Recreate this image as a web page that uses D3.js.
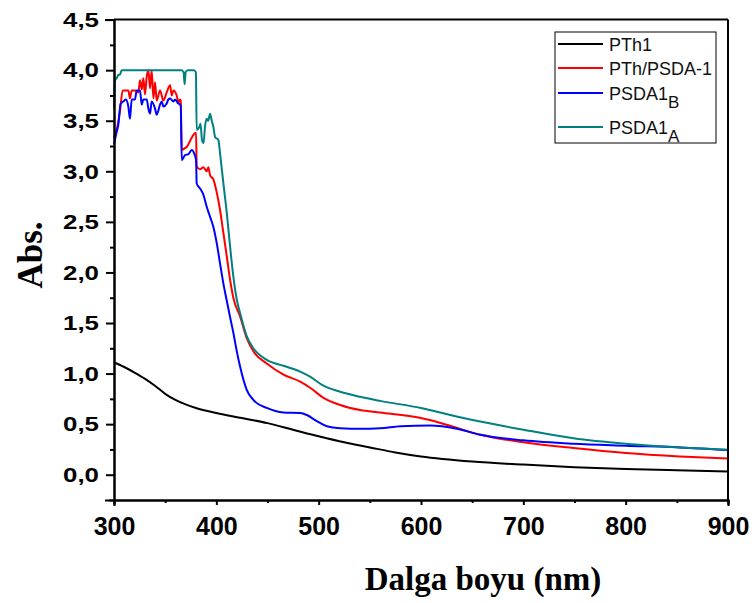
<!DOCTYPE html>
<html lang="en">
<head>
  <meta charset="UTF-8" />
  <title>Abs. vs Dalga boyu</title>
  <script src="https://d3js.org/d3.v7.min.js"></script>
  <style>
    body { margin: 0; background: #fff; }
    svg { display: block; }
    .axis path, .axis line { stroke: #000; stroke-width: 2px; }
    .ylab text { font-family: 'Liberation Sans', Arial, sans-serif; font-weight: bold; font-size: 21px; fill: #000; }
    .xlab text { font-family: 'Liberation Sans', Arial, sans-serif; font-weight: bold; font-size: 25px; fill: #000; }
    .title { font-family: 'Liberation Serif', 'Times New Roman', serif; font-weight: bold; fill: #000; }
    .legend text { font-family: 'Liberation Sans', Arial, sans-serif; font-size: 18px; fill: #111; }
  </style>
</head>
<body>
<svg id="chart" width="754" height="603"></svg>
<script>
  // series names and colours
  const seriesNames = ["PTh1", "PTh/PSDA-1", "PSDA1B", "PSDA1A"];
  const seriesColors = ["#000000", "#ff0000", "#0000ff", "#008080"];

  // PTh1 (black)
  const pth1Wl  = [300, 310, 320, 330, 340, 350, 360, 370, 380, 400, 425, 450, 475, 500, 525, 550, 575, 600, 650, 700, 750, 800, 850, 900];
  const pth1Abs = [1.11, 1.065, 1.01, 0.95, 0.88, 0.80, 0.74, 0.695, 0.66, 0.61, 0.56, 0.51, 0.445, 0.38, 0.32, 0.27, 0.22, 0.18, 0.13, 0.10, 0.075, 0.056, 0.044, 0.033];

  // PTh/PSDA-1 (red)
  const redWl  = [300, 303.3, 305.9, 308.5, 310.8, 314, 315.6, 317.3, 320.5, 323.8, 325.4, 327.1, 328.7, 330.3, 332, 333.6, 335.2, 336.8, 338.5, 340.1, 341.7, 345, 348.2, 351.5, 354.8, 356.4, 358, 361.3, 362.9, 364.5, 365.2,
                  366.2, 369.4, 371.1, 374.3, 377.6, 380.2, 380.8, 384.1, 387.3, 390.6, 392.2, 393.9, 397.1, 400.4, 403.6, 406.9, 410.2, 413.4, 416.6, 423.2, 429.7, 436.2, 449.3, 465.6, 481.9, 491.6, 504.7, 521, 540.5, 560, 600, 625, 658, 700, 749, 800, 853, 900];
  const redAbs = [3.33, 3.44, 3.60, 3.80, 3.80, 3.80, 3.72, 3.80, 3.80, 3.78, 3.90, 3.81, 3.92, 3.76, 3.94, 4.00, 3.82, 4.00, 3.72, 3.88, 3.70, 3.80, 3.70, 3.78, 3.85, 3.75, 3.80, 3.75, 3.68, 3.71, 3.70,
                  3.21, 3.23, 3.24, 3.30, 3.36, 3.38, 3.05, 3.02, 3.04, 3.00, 3.04, 2.96, 2.92, 2.79, 2.62, 2.39, 2.16, 1.93, 1.75, 1.565, 1.35, 1.22, 1.10, 0.99, 0.92, 0.86, 0.76, 0.69, 0.64, 0.615, 0.56, 0.494, 0.395, 0.32, 0.263, 0.214, 0.181, 0.161];

  // PSDA1B (blue)
  const blueWl  = [300, 302.6, 304.2, 306.5, 309.1, 311.7, 314, 315.6, 317.3, 320.5, 322.2, 325.4, 327.1, 328.7, 332, 333.6, 335.2, 336.8, 340.1, 341.7, 345, 346.6, 348.2, 351.5, 353.1, 354.8, 358, 359.6, 362.9, 364.5, 365.2,
                   366.2, 369.4, 372.7, 375.9, 378.2, 380.2, 380.8, 384.1, 387.3, 390.6, 393.9, 397.1, 400.4, 403.6, 406.9, 410.2, 413.4, 416.7, 420, 423.2, 429.7, 436.2, 449.3, 465.6, 481.9, 488.4, 498.2, 508, 521, 540.5, 560, 580, 609, 635, 658, 700, 749, 800, 853, 900];
  const blueAbs = [3.27, 3.39, 3.46, 3.67, 3.69, 3.71, 3.64, 3.52, 3.71, 3.71, 3.80, 3.80, 3.66, 3.71, 3.71, 3.62, 3.57, 3.69, 3.62, 3.56, 3.66, 3.69, 3.64, 3.67, 3.71, 3.72, 3.69, 3.71, 3.67, 3.66, 3.65,
                   3.11, 3.16, 3.17, 3.21, 3.18, 3.11, 2.88, 2.83, 2.77, 2.65, 2.55, 2.45, 2.29, 2.09, 1.89, 1.72, 1.56, 1.40, 1.22, 1.07, 0.84, 0.74, 0.66, 0.615, 0.61, 0.59, 0.53, 0.48, 0.46, 0.455, 0.46, 0.48, 0.487, 0.455, 0.395, 0.34, 0.306, 0.287, 0.27, 0.244];

  // PSDA1A (teal)
  const tealWl  = [300, 301, 302.6, 304, 306, 307.5, 366, 368, 369, 370, 372, 378, 380, 380.8, 383, 384.5, 386, 387.5, 389, 390.6, 392, 393.9, 395.5, 397.1, 398.8, 402, 403.6, 406.9, 410.2, 413.4, 416.6, 420, 423.2, 429.7, 436.2, 449.3, 465.6, 481.9, 491.6, 504.7, 521, 540.5, 560, 600, 641.5, 700, 749, 800, 853, 900];
  const tealAbs = [3.62, 3.90, 3.92, 3.95, 3.96, 4.00, 4.00, 3.98, 3.86, 3.98, 4.00, 4.00, 3.98, 3.41, 3.43, 3.47, 3.31, 3.28, 3.45, 3.52, 3.50, 3.57, 3.50, 3.44, 3.34, 3.31, 3.18, 2.88, 2.59, 2.26, 1.96, 1.73, 1.60, 1.37, 1.25, 1.136, 1.077, 1.02, 0.97, 0.88, 0.82, 0.77, 0.73, 0.66, 0.56, 0.445, 0.36, 0.306, 0.27, 0.247];

  const xTicks = [300, 400, 500, 600, 700, 800, 900];
  const xMinor = [350, 450, 550, 650, 750, 850];
  const yTicks = [0, 0.5, 1, 1.5, 2, 2.5, 3, 3.5, 4, 4.5];
  const yMinor = [0.25, 0.75, 1.25, 1.75, 2.25, 2.75, 3.25, 3.75, 4.25];

  const seriesWl = [pth1Wl, redWl, blueWl, tealWl];
  const seriesAbs = [pth1Abs, redAbs, blueAbs, tealAbs];

  const margin = { left: 114, right: 26, top: 19.6, bottom: 103 };
  const width = 754, height = 603;

  const svg = d3.select("#chart");

  const x = d3.scaleLinear().domain([300, 900]).range([margin.left, width - margin.right]);
  const y = d3.scaleLinear().domain([-0.25, 4.5]).range([height - margin.bottom, margin.top]);

  // lines
  const line = d3.line()
    .x(d => x(d[0]))
    .y(d => y(d[1]))
    .curve(d3.curveMonotoneX);

  seriesNames.forEach((name, i) => {
    const pts = seriesWl[i].map((w, j) => [w, seriesAbs[i][j]]);
    svg.append("path")
      .datum(pts)
      .attr("fill", "none")
      .attr("stroke", seriesColors[i])
      .attr("stroke-width", 2)
      .attr("stroke-linejoin", "round")
      .attr("d", line);
  });

  // frame top + right
  svg.append("line")
    .attr("x1", x(300)).attr("x2", x(900))
    .attr("y1", y(4.5)).attr("y2", y(4.5))
    .attr("stroke", "#000").attr("stroke-width", 2);
  svg.append("line")
    .attr("x1", x(900)).attr("x2", x(900))
    .attr("y1", y(4.5)).attr("y2", y(-0.25))
    .attr("stroke", "#000").attr("stroke-width", 2);

  // x axis
  svg.append("g")
    .attr("class", "axis")
    .attr("transform", `translate(0,${y(-0.25)})`)
    .call(d3.axisBottom(x).tickValues(xMinor).tickSize(3).tickFormat(""));
  svg.append("g")
    .attr("class", "axis xlab")
    .attr("transform", `translate(0,${y(-0.25)})`)
    .call(d3.axisBottom(x).tickValues(xTicks).tickSize(5).tickPadding(12).tickFormat(d3.format("d")));

  // y axis
  svg.append("g")
    .attr("class", "axis")
    .attr("transform", `translate(${x(300)},0)`)
    .call(d3.axisLeft(y).tickValues(yMinor).tickSize(4).tickFormat(""));
  svg.append("g")
    .attr("class", "axis ylab")
    .attr("transform", `translate(${x(300)},0)`)
    .call(d3.axisLeft(y).tickValues(yTicks).tickSize(8).tickPadding(7)
      .tickFormat(d => d3.format(".1f")(d).replace(".", ",")))
    .selectAll("text")
    .attr("textLength", 36)
    .attr("lengthAdjust", "spacingAndGlyphs");

  svg.selectAll(".axis path.domain").attr("stroke-linecap", "square");

  // axis titles
  svg.append("text")
    .attr("class", "title")
    .attr("transform", "translate(42,255) rotate(-90)")
    .attr("text-anchor", "middle")
    .attr("font-size", 35)
    .text("Abs.");

  svg.append("text")
    .attr("class", "title")
    .attr("x", 483)
    .attr("y", 590)
    .attr("text-anchor", "middle")
    .attr("font-size", 33)
    .text("Dalga boyu (nm)");

  // legend
  const legend = svg.append("g").attr("class", "legend");
  legend.append("rect")
    .attr("x", 555).attr("y", 32)
    .attr("width", 161).attr("height", 111)
    .attr("fill", "#fff")
    .attr("stroke", "#000").attr("stroke-width", 1);

  const legendY = [44, 68, 93, 127];
  const legendText = [["PTh1", ""], ["PTh/PSDA-1", ""], ["PSDA1", "B"], ["PSDA1", "A"]];
  legendY.forEach((ly, i) => {
    legend.append("line")
      .attr("x1", 558).attr("x2", 603)
      .attr("y1", ly).attr("y2", ly)
      .attr("stroke", seriesColors[i]).attr("stroke-width", 2);
    const t = legend.append("text")
      .attr("x", 609).attr("y", ly + 7)
      .text(legendText[i][0]);
    if (legendText[i][1]) {
      t.append("tspan")
        .attr("dy", 8)
        .attr("font-size", 17)
        .text(legendText[i][1]);
    }
  });
</script>
</body>
</html>
